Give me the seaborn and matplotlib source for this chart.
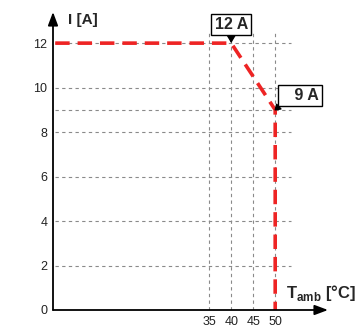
import matplotlib
matplotlib.use("Agg")
import matplotlib.pyplot as plt
import seaborn as sns

# derating curve
temp = [0, 40, 50, 50]
current = [12, 12, 9, 0]

x_ticks = [35, 40, 45, 50]
y_ticks = [0, 2, 4, 6, 8, 10, 12]
grid_y = [2, 4, 6, 8, 9, 10, 12]
grid_x = [35, 40, 45, 50]

sns.set_style("white")
plt.rcParams["font.family"] = ["Liberation Sans", "DejaVu Sans"]
plt.rcParams["mathtext.fontset"] = "custom"
plt.rcParams["mathtext.bf"] = "Liberation Sans:bold"
plt.rcParams["mathtext.rm"] = "Liberation Sans"

fig = plt.figure(figsize=(3.6, 3.32), dpi=100)
ax = fig.add_axes([53 / 360, 1 - 310 / 332, 275 / 360, 298 / 332])
ax.set_xlim(-0.5, 62)
ax.set_ylim(0, 13.4)

# grid
grid_kw = dict(color="#8a8a8a", linewidth=0.8, linestyles=(0, (3, 3)), zorder=1)
ax.hlines(grid_y, 0, 53.5, **grid_kw)
ax.vlines(grid_x, 0, 12.6, **grid_kw)

sns.lineplot(x=temp, y=current, sort=False, estimator=None, ax=ax,
             color="#ee2424", linewidth=2.6, dashes=False, zorder=3)
ax.lines[-1].set_dashes((4, 2.2))

for s in ax.spines.values():
    s.set_visible(False)

# axis arrows
arrow = dict(arrowstyle="-|>,head_length=0.8,head_width=0.3", color="black",
             linewidth=1.3, shrinkA=0, shrinkB=0)
ax.annotate("", xy=(-0.5, 13.4), xytext=(-0.5, 0), arrowprops=arrow,
            annotation_clip=False)
ax.annotate("", xy=(62, 0), xytext=(-0.5, 0), arrowprops=arrow,
            annotation_clip=False)

ax.set_xticks(x_ticks)
ax.set_yticks(y_ticks)
ax.tick_params(axis="both", labelsize=9, length=2, width=0.8, pad=2,
               colors="#222222")
ax.tick_params(axis="x", length=0, pad=4)

ax.text(3, 13.05, "I [A]", fontsize=11, fontweight="bold", va="center")
ax.text(52.5, 0.75, r"$\mathbf{T}_{\mathbf{amb}}$ [°C]", fontsize=12,
        fontweight="bold", va="center")

box = dict(boxstyle="square,pad=0.2", facecolor="white", edgecolor="black",
           linewidth=1)
ax.annotate("12 A", xy=(temp[1], current[1]), xytext=(40, 12.85),
            fontsize=11.5, fontweight="bold", ha="center", va="center", bbox=box,
            arrowprops=dict(arrowstyle="-|>,head_length=0.5,head_width=0.3",
                            color="black", shrinkA=0, shrinkB=0))
ax.annotate("   9 A", xy=(temp[2], current[2]), xytext=(55.6, 9.65),
            fontsize=11.5, fontweight="bold", ha="center", va="center", bbox=box,
            arrowprops=dict(arrowstyle="wedge,tail_width=0.4", color="black",
                            shrinkA=0, shrinkB=0, relpos=(0.05, 0.0)))

fig.savefig("out.png", dpi=100)
